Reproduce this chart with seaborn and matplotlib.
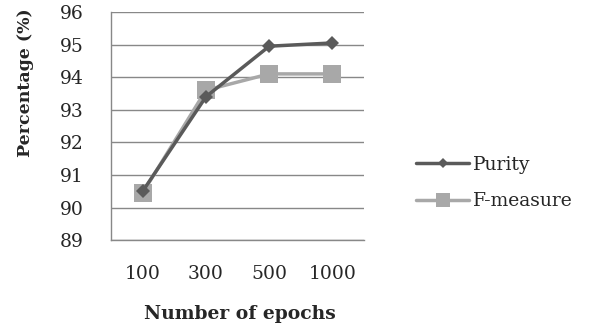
import matplotlib
matplotlib.use("Agg")
import matplotlib.pyplot as plt
import seaborn as sns
import pandas as pd
import numpy as np

epochs = ["100", "300", "500", "1000"]
purity = [90.5, 93.4, 94.95, 95.05]
f_measure = [90.45, 93.6, 94.1, 94.1]
y_ticks = [89, 90, 91, 92, 93, 94, 95, 96]

df = pd.DataFrame({
    "epochs": epochs * 2,
    "value": purity + f_measure,
    "series": ["Purity"] * len(epochs) + ["F-measure"] * len(epochs),
})

sns.set_style("white")
plt.rcParams["font.family"] = ["DejaVu Serif", "Liberation Serif"]

fig = plt.figure(figsize=(5.94, 3.33), dpi=100)
ax = fig.add_axes([0.187, 0.279, 0.426, 0.685])

palette = {"Purity": "#5a5a5a", "F-measure": "#a8a8a8"}
markers = {"Purity": "D", "F-measure": "s"}
sizes = {"Purity": 7, "F-measure": 13}
grid_col = "#888888"

# light series first so the dark line sits on top
for name in ["F-measure", "Purity"]:
    sub = df[df["series"] == name]
    sns.lineplot(data=sub, x="epochs", y="value", ax=ax, color=palette[name],
                 marker=markers[name], markersize=sizes[name], linewidth=2.5,
                 markeredgewidth=0, label=name, sort=False)

ax.set_ylim(89, 96)
ax.set_yticks(y_ticks)
ax.set_xlim(-0.5, 3.5)
ax.yaxis.grid(True, color=grid_col, linewidth=1)
ax.set_axisbelow(True)
for s in ["top", "right"]:
    ax.spines[s].set_visible(False)
for s in ["left", "bottom"]:
    ax.spines[s].set_color(grid_col)
    ax.spines[s].set_linewidth(1)

ax.set_xticks(range(len(epochs)))
ax.set_xticklabels(epochs)
ax.set_xticks(np.arange(-0.5, len(epochs), 1.0), minor=True)
ax.tick_params(axis="x", which="major", length=0, pad=18, labelsize=13.5)
ax.tick_params(axis="x", which="minor", length=6, color=grid_col, direction="out")
ax.tick_params(axis="y", length=6, color=grid_col, direction="out", labelsize=13.5, pad=14)

ax.set_xlabel("Number of epochs", fontweight="bold", fontsize=13.5)
ax.xaxis.set_label_coords(0.51, -0.285)
ax.set_ylabel("Percentage (%)", fontweight="bold", fontsize=12.5, va="center")
ax.yaxis.set_label_coords(-0.34, 0.69)

handles, labels = ax.get_legend_handles_labels()
order = [labels.index("Purity"), labels.index("F-measure")]
ax.legend([handles[i] for i in order], [labels[i] for i in order],
          loc="center left", bbox_to_anchor=(1.14, 0.25), frameon=False,
          fontsize=13.5, handlelength=2.8, handletextpad=0.2, labelspacing=1.0,
          markerscale=0.75)

fig.savefig("out.png", dpi=100)
